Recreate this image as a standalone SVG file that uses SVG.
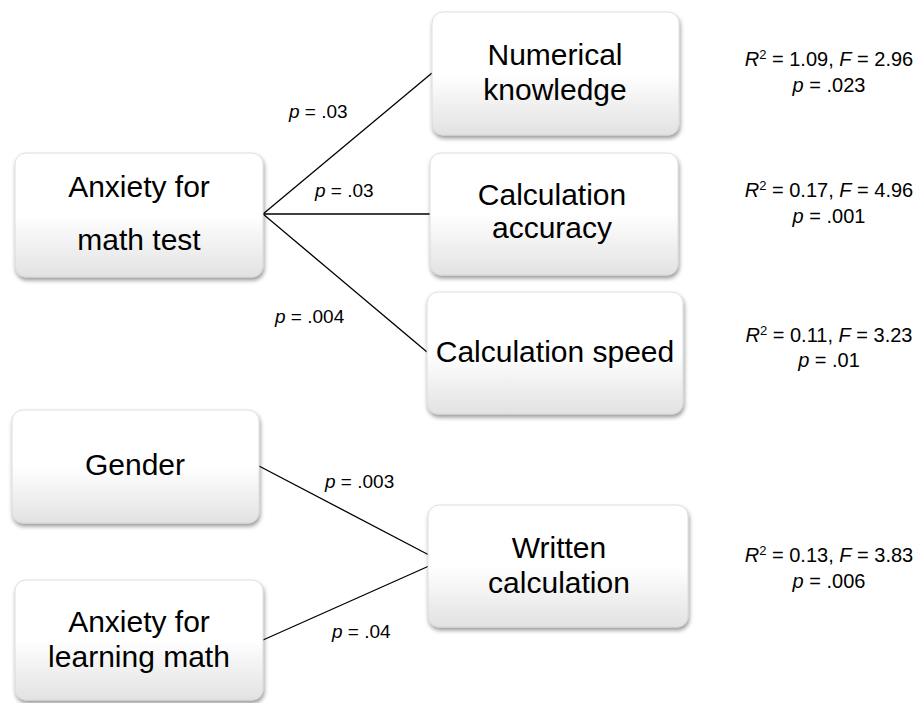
<svg xmlns="http://www.w3.org/2000/svg" width="914" height="703" viewBox="0 0 914 703">
<defs>
<linearGradient id="g" x1="0" y1="0" x2="0" y2="1">
<stop offset="0" stop-color="#ffffff"/>
<stop offset="0.5" stop-color="#ffffff"/>
<stop offset="1" stop-color="#e2e2e2"/>
</linearGradient>
<filter id="sh" x="-10%" y="-10%" width="125%" height="135%">
<feDropShadow dx="1" dy="3" stdDeviation="2" flood-color="#000" flood-opacity="0.4"/>
</filter>
</defs>
<style>
.box{fill:url(#g);stroke:#d6d6d6;stroke-width:0.8;filter:url(#sh)}
.nt{font-family:"Liberation Sans",Arial,sans-serif;font-size:30px;fill:#000;text-anchor:middle}
.st{font-family:"Liberation Sans",Arial,sans-serif;font-size:20px;fill:#000;text-anchor:middle}
.lb{font-family:"Liberation Sans",Arial,sans-serif;font-size:19px;fill:#000}
.i{font-style:italic}
.ln{stroke:#000;stroke-width:1.3;fill:none}
</style>
<rect width="914" height="703" fill="#fff"/>
<g id="connectors">
<line class="ln" x1="263" y1="214" x2="432" y2="73"/>
<line class="ln" x1="263" y1="214" x2="430" y2="214"/>
<line class="ln" x1="263" y1="214" x2="427" y2="352"/>
<line class="ln" x1="259" y1="466" x2="429" y2="555"/>
<line class="ln" x1="263" y1="640" x2="429" y2="566"/>
</g>
<g id="n-anx-test">
<rect class="box" x="15" y="153" width="248" height="124" rx="11"/>
<text class="nt" x="139" y="197">Anxiety for</text>
<text class="nt" x="139" y="250">math test</text>
</g>
<g id="n-numerical">
<rect class="box" x="432" y="12" width="247" height="123" rx="11"/>
<text class="nt" x="555" y="65">Numerical</text>
<text class="nt" x="555" y="100">knowledge</text>
</g>
<g id="n-accuracy">
<rect class="box" x="430" y="153" width="248" height="122" rx="11"/>
<text class="nt" x="552" y="205">Calculation</text>
<text class="nt" x="552" y="238">accuracy</text>
</g>
<g id="n-speed">
<rect class="box" x="427" y="292" width="256" height="122" rx="11"/>
<text class="nt" x="555" y="362">Calculation speed</text>
</g>
<g id="n-gender">
<rect class="box" x="12" y="410" width="247" height="113" rx="11"/>
<text class="nt" x="135" y="475">Gender</text>
</g>
<g id="n-anx-learn">
<rect class="box" x="15" y="580" width="248" height="120" rx="11"/>
<text class="nt" x="139" y="632">Anxiety for</text>
<text class="nt" x="139" y="667">learning math</text>
</g>
<g id="n-written">
<rect class="box" x="428" y="505" width="260" height="122" rx="11"/>
<text class="nt" x="559" y="558">Written</text>
<text class="nt" x="559" y="593">calculation</text>
</g>
<g id="labels">
<text class="lb" x="289" y="118"><tspan class="i">p</tspan> = .03</text>
<text class="lb" x="315" y="197"><tspan class="i">p</tspan> = .03</text>
<text class="lb" x="275" y="323"><tspan class="i">p</tspan> = .004</text>
<text class="lb" x="325" y="488"><tspan class="i">p</tspan> = .003</text>
<text class="lb" x="332" y="638"><tspan class="i">p</tspan> = .04</text>
</g>
<g id="stats">
<text class="st" x="829" y="66"><tspan class="i">R</tspan><tspan font-size="13" dy="-7">2</tspan><tspan dy="7"> = 1.09, </tspan><tspan class="i">F</tspan> = 2.96</text>
<text class="st" x="829" y="92"><tspan class="i">p</tspan> = .023</text>
<text class="st" x="829" y="197"><tspan class="i">R</tspan><tspan font-size="13" dy="-7">2</tspan><tspan dy="7"> = 0.17, </tspan><tspan class="i">F</tspan> = 4.96</text>
<text class="st" x="829" y="223"><tspan class="i">p</tspan> = .001</text>
<text class="st" x="829" y="342"><tspan class="i">R</tspan><tspan font-size="13" dy="-7">2</tspan><tspan dy="7"> = 0.11, </tspan><tspan class="i">F</tspan> = 3.23</text>
<text class="st" x="829" y="367"><tspan class="i">p</tspan> = .01</text>
<text class="st" x="829" y="562"><tspan class="i">R</tspan><tspan font-size="13" dy="-7">2</tspan><tspan dy="7"> = 0.13, </tspan><tspan class="i">F</tspan> = 3.83</text>
<text class="st" x="829" y="588"><tspan class="i">p</tspan> = .006</text>
</g>
</svg>
